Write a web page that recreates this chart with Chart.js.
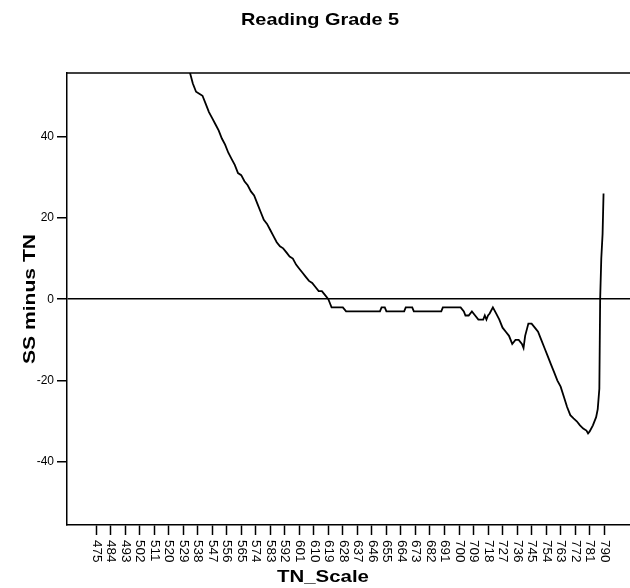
<!DOCTYPE html>
<html>
<head>
<meta charset="utf-8">
<script src="https://cdn.jsdelivr.net/npm/chart.js@4.4.1/dist/chart.umd.min.js"></script>
<style>
  html, body { margin: 0; padding: 0; background: #fff; }
  #wrap { width: 630px; height: 588px; position: relative; }
</style>
</head>
<body>
<div id="wrap"><canvas id="chart"></canvas></div>
<script>
/* Reading Grade 5 — SS minus TN against TN_Scale */

const chartTitle = 'Reading Grade 5';
const xTitle = 'TN_Scale';
const yTitle = 'SS minus TN';

const xTicks = [475, 484, 493, 502, 511, 520, 529, 538, 547, 556, 565, 574, 583, 592,
  601, 610, 619, 628, 637, 646, 655, 664, 673, 682, 691, 700, 709, 718, 727, 736,
  745, 754, 763, 772, 781, 790];
const yTicks = [-40, -20, 0, 20, 40];

// TN_Scale positions and the SS minus TN difference
const tnScale = [533, 535, 537, 539, 541, 543, 545, 547, 549, 551, 553, 555, 557, 559,
  561, 563, 565, 567, 569, 571, 573, 575, 577, 579, 581, 583, 585, 587, 589, 591,
  593, 595, 597, 599, 601, 603, 605, 607, 609, 611, 613, 615, 617, 619, 620, 621,
  628, 630, 651, 652, 654, 655, 666, 667, 671, 672, 689, 690, 701, 703, 704, 706,
  708, 710, 712, 715, 716, 717, 718, 719, 721, 723, 725, 727, 729, 731, 733, 735,
  737, 739, 740, 741, 743, 745, 747, 749, 751, 753, 755, 757, 759, 761, 763, 765,
  767, 769, 771, 773, 775, 777, 779, 780, 781, 783, 785, 786, 787, 787.5, 788.2,
  789, 789.6];
const ssMinusTn = [56, 53, 51, 50.5, 50, 48, 46, 44.5, 43, 41.5, 39.5, 38, 36, 34.5,
  33, 31, 30.5, 29, 28, 26.5, 25.5, 23.5, 21.5, 19.5, 18.5, 17, 15.5, 14, 13, 12.5,
  11.5, 10.5, 10, 8.5, 7.5, 6.5, 5.5, 4.5, 4, 3, 2, 2, 1, 0, -1, -2,
  -2, -3, -3, -2, -2, -3, -3, -2, -2, -3, -3, -2, -2, -3, -4, -4,
  -3, -4, -5, -5, -4, -5, -4, -3.5, -2, -3.5, -5, -7, -8, -9, -11, -10,
  -10, -11, -12, -9, -6, -6, -7, -8, -10, -12, -14, -16, -18, -20, -21.5, -24,
  -26.5, -28.5, -29.3, -30, -31, -31.8, -32.3, -33, -32.5, -31, -29, -27, -22, 0, 10,
  16, 26];

const points = tnScale.map((x, i) => ({ x, y: ssMinusTn[i] }));

const FONT = '"Liberation Sans", Arial, sans-serif';

// draw text widened along its own direction (the source chart's lettering is wide)
function wideText(ctx, text, x, y, angle, stretch) {
  ctx.save();
  ctx.translate(x, y);
  ctx.rotate(angle);
  ctx.scale(stretch, 1);
  ctx.fillText(text, 0, 0);
  ctx.restore();
}

// frame top line, tick labels read top-to-bottom, titles
const decorations = {
  id: 'decorations',
  afterDraw(chart) {
    const { ctx, chartArea } = chart;
    const xs = chart.scales.x;
    ctx.save();
    ctx.strokeStyle = '#000';
    ctx.lineWidth = 1.5;
    ctx.beginPath();
    ctx.moveTo(chartArea.left, chartArea.top);
    ctx.lineTo(chartArea.right, chartArea.top);
    ctx.stroke();

    ctx.fillStyle = '#000';
    ctx.font = '12px ' + FONT;
    ctx.textAlign = 'left';
    ctx.textBaseline = 'middle';
    xTicks.forEach(v => {
      wideText(ctx, String(v), xs.getPixelForValue(v), chartArea.bottom + 15, Math.PI / 2, 1.12);
    });

    ctx.font = 'bold 17px ' + FONT;
    ctx.textAlign = 'center';
    wideText(ctx, chartTitle, 320, 20, 0, 1.17);
    wideText(ctx, xTitle, 323, 577, 0, 1.2);
    wideText(ctx, yTitle, 30, 299, -Math.PI / 2, 1.24);
    ctx.restore();
  }
};

new Chart(document.getElementById('chart'), {
  type: 'line',
  data: {
    datasets: [{
      data: points,
      borderColor: '#000',
      borderWidth: 1.8,
      pointRadius: 0,
      tension: 0,
      fill: false,
    }],
  },
  options: {
    responsive: true,
    maintainAspectRatio: false,
    animation: false,
    layout: { padding: { top: 73, right: 0, left: 0, bottom: 0 } },
    plugins: {
      legend: { display: false },
      tooltip: { enabled: false },
    },
    scales: {
      x: {
        type: 'linear',
        min: 457,
        max: 806,
        afterBuildTicks: (s) => { s.ticks = xTicks.map(v => ({ value: v })); },
        afterFit: (s) => { s.height = 63; },
        grid: { drawOnChartArea: false, tickLength: 10, tickColor: '#000', tickWidth: 1.5 },
        border: { display: true, color: '#000', width: 1.5 },
        ticks: { display: false },
      },
      y: {
        min: -55.5,
        max: 55.6,
        afterBuildTicks: (s) => { s.ticks = yTicks.map(v => ({ value: v })); },
        afterFit: (s) => { s.width = 67; },
        grid: {
          color: (c) => (c.tick && c.tick.value === 0 ? '#000' : 'rgba(0,0,0,0)'),
          lineWidth: 1.5,
          tickLength: 10,
          tickColor: '#000',
          tickWidth: 1.5,
        },
        border: { display: true, color: '#000', width: 1.5 },
        ticks: { color: '#000', padding: 3, font: { size: 12, family: FONT } },
      },
    },
  },
  plugins: [decorations],
});
</script>
</body>
</html>
